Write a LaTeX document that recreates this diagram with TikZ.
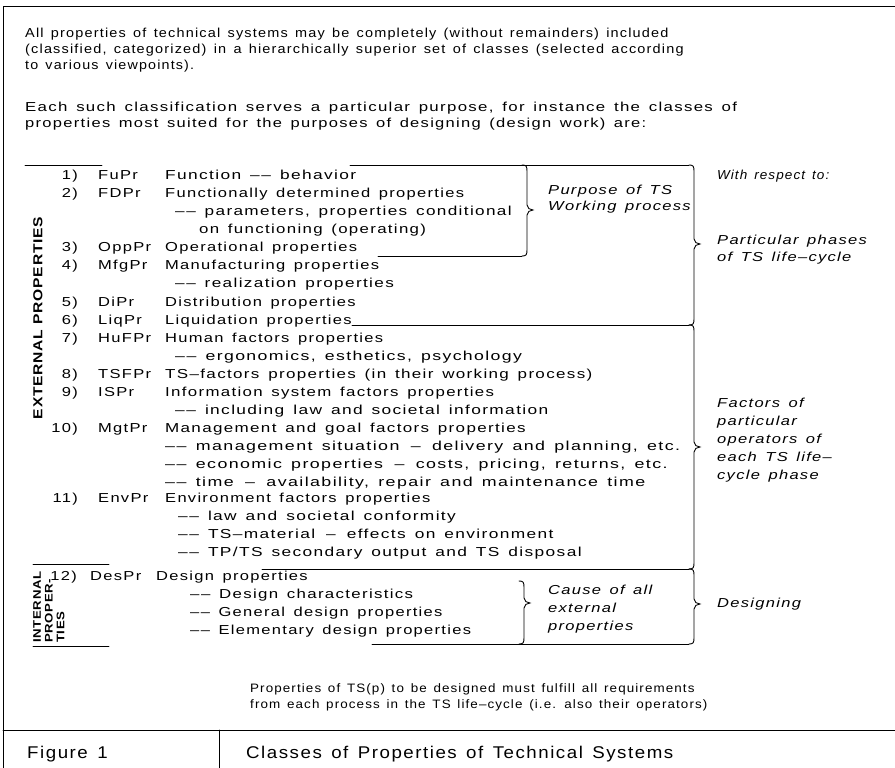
\documentclass[tikz,border=0pt]{standalone}
\usepackage{fontspec}
\setmainfont{Liberation Sans}
\newfontfamily\lf{Liberation Sans}[FakeStretch=1.27,LetterSpace=10,WordSpace=1.45]
\newfontfamily\tf{Liberation Sans}[FakeStretch=1.1,LetterSpace=9,WordSpace=1.4]
\newfontfamily\vf{Liberation Sans}[FakeStretch=1.2,LetterSpace=6]
\newcommand\dd{–\kern1.5pt–}
\newcommand\sd{\kern2pt–\kern2pt}
\tikzset{
  x=1pt,y=-1pt,
  lt/.style={anchor=base west,inner sep=0pt,font=\lf\fontsize{13}{15}\selectfont},
  nt/.style={anchor=base east,inner sep=0pt,font=\lf\fontsize{13}{15}\selectfont},
  tt/.style={anchor=base west,inner sep=0pt,font=\tf\fontsize{13}{15}\selectfont},
  it/.style={anchor=base west,inner sep=0pt,font=\lf\itshape\fontsize{13}{15}\selectfont},
  notet/.style={anchor=base west,inner sep=0pt,font=\tf\fontsize{12.2}{14}\selectfont},
  titlet/.style={anchor=base west,inner sep=0pt,font=\tf\fontsize{17}{20}\selectfont},
  rule/.style={line width=0.9pt,line cap=round},
}
\newcommand\itemrow[6][1]{%
  \node[nt] (n#2) at (78,{#3+4.6}) {#4};
  \node[lt] (c#2) at (98,{#3+4.6}) {#5};
  \node[lt,xscale=#1] (d#2) at (165,{#3+4.6}) {#6};}
\newcommand\subrow[5][1]{\node[lt,xscale=#1] (s#2) at (#3,{#4+4.6}) {#5};}
\newcommand\rbr[4]{% x, top, bottom, mid
  \draw[rule] ({#1-5},#2) .. controls ({#1-1},#2) and (#1,{#2+1}) .. (#1,{#2+6})
    -- (#1,{#4-5}) .. controls (#1,{#4-2}) and ({#1+3},#4) .. ({#1+6},#4)
    .. controls ({#1+3},#4) and (#1,{#4+2}) .. (#1,{#4+5})
    -- (#1,{#3-6}) .. controls (#1,{#3-1}) and ({#1-1},#3) .. ({#1-5},#3);}
\begin{document}
\begin{tikzpicture}
\useasboundingbox (0,0) rectangle (895,768);
% frame
\draw[rule] (3,768) -- (3,6) -- (895,6);
\draw[rule] (3,730) -- (895,730);
\draw[rule] (219,730) -- (219,768);
% intro text
\node[tt,xscale=1.012] (t1) at (25,37.6) {All properties of technical systems may be completely (without remainders) included};
\node[tt,xscale=1.012] (t2) at (25,53.6) {(classified, categorized) in a hierarchically superior set of classes (selected according};
\node[tt] (t3) at (25,69.6) {to various viewpoints).};
\node[lt,xscale=1.02] (t4) at (25,111.6) {Each such classification serves a particular purpose, for instance the classes of};
\node[lt] (t5) at (25,127.6) {properties most suited for the purposes of designing (design work) are:};
% vertical labels
\node[rotate=90,inner sep=0pt,font=\vf\bfseries\fontsize{13}{15}\selectfont] (ext) at (38,318) {EXTERNAL PROPERTIES};
\node[rotate=90,anchor=north west,inner sep=0pt,align=left,font=\vf\bfseries\fontsize{11}{11.8}\selectfont] (int) at (33,643) {INTERNAL\\PROPER-\\TIES};
% list
\itemrow[1.05]{1}{175}{1)}{FuPr}{Function \dd{} behavior}
\itemrow{2}{193}{2)}{FDPr}{Functionally determined properties}
\subrow[1.04]{2a}{175}{211}{\dd{} parameters, properties conditional}
\subrow[1.02]{2b}{199}{229}{on functioning (operating)}
\itemrow{3}{247}{3)}{OppPr}{Operational properties}
\itemrow{4}{265}{4)}{MfgPr}{Manufacturing properties}
\subrow[1.04]{4a}{175}{283}{\dd{} realization properties}
\itemrow{5}{302}{5)}{DiPr}{Distribution properties}
\itemrow{6}{320}{6)}{LiqPr}{Liquidation properties}
\itemrow{7}{338}{7)}{HuFPr}{Human factors properties}
\subrow[1.07]{7a}{175}{356}{\dd{} ergonomics, esthetics, psychology}
\itemrow[1.03]{8}{374}{8)}{TSFPr}{TS–factors properties (in their working process)}
\itemrow[1.02]{9}{392}{9)}{ISPr}{Information system factors properties}
\subrow[1.05]{9a}{175}{410}{\dd{} including law and societal information}
\itemrow[1.03]{10}{428}{10)}{MgtPr}{Management and goal factors properties}
\subrow[1.08]{10a}{165}{446}{\dd{} management situation \sd{} delivery and planning, etc.}
\subrow[1.08]{10b}{165}{464}{\dd{} economic properties \sd{} costs, pricing, returns, etc.}
\subrow[1.08]{10c}{165}{482}{\dd{} time \sd{} availability, repair and maintenance time}
\itemrow{11}{498}{11)}{EnvPr}{Environment factors properties}
\subrow[1.05]{11a}{178}{516}{\dd{} law and societal conformity}
\subrow[1.05]{11b}{178}{534}{\dd{} TS–material \sd{} effects on environment}
\subrow[1.05]{11c}{178}{552}{\dd{} TP/TS secondary output and TS disposal}
\node[nt] (n12) at (77,580.6) {12)};
\node[lt] (c12) at (90,580.6) {DesPr};
\node[lt] (d12) at (156,580.6) {Design properties};
\subrow[1.02]{12a}{190}{594}{\dd{} Design characteristics}
\subrow{12b}{190}{612}{\dd{} General design properties}
\subrow{12c}{190}{630}{\dd{} Elementary design properties}
% separating lines
\draw[rule] (25,165) -- (102,165);
\draw[rule] (350,165) -- (689,165);
\draw[rule] (378,256) -- (522,256);
\draw[rule] (352,325) -- (689,325);
\draw[rule] (262,569) -- (689,569);
\draw[rule] (372,644) -- (689,644);
\draw[rule] (33,564) -- (109,564);
\draw[rule] (33,646) -- (109,646);
% braces
\rbr{527}{165}{256}{210}
\rbr{694}{165}{325}{244}
\rbr{694}{325}{569}{447}
\rbr{694}{569}{644}{604}
\rbr{524}{581}{644}{603}
% brace labels
\node[it] (p1) at (548,194.6) {Purpose of TS};
\node[it] (p2) at (548,210.6) {Working process};
\node[it,xscale=0.82] (w1) at (717,179.6) {With respect to:};
\node[it] (q1) at (717,244.6) {Particular phases};
\node[it] (q2) at (717,261.6) {of TS life–cycle};
\node[it] (f1) at (717,407.6) {Factors of};
\node[it] (f2) at (717,425.6) {particular};
\node[it] (f3) at (717,443.6) {operators of};
\node[it] (f4) at (717,461.6) {each TS life–};
\node[it] (f5) at (717,479.6) {cycle phase};
\node[it] (k1) at (548,594.6) {Cause of all};
\node[it] (k2) at (548,612.6) {external};
\node[it] (k3) at (548,630.6) {properties};
\node[it] (g1) at (717,607.6) {Designing};
% note
\node[notet] (m1) at (250,692) {Properties of TS(p) to be designed must fulfill all requirements};
\node[notet] (m2) at (250,708) {from each process in the TS life–cycle (i.e. also their operators)};
% title row
\node[titlet] (fig) at (27,758) {Figure 1};
\node[titlet] (ttl) at (246,758) {Classes of Properties of Technical Systems};
\end{tikzpicture}
\end{document}
